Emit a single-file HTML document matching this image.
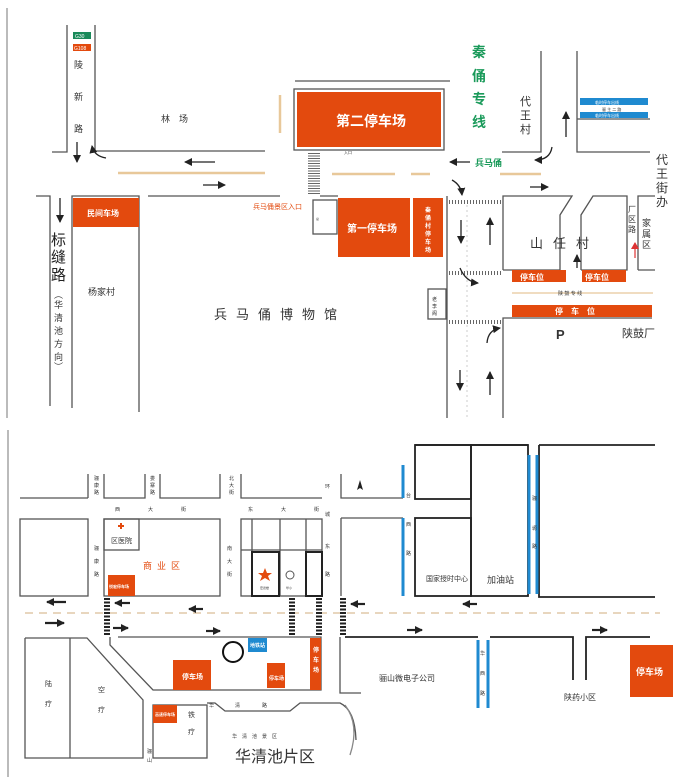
<!DOCTYPE html>
<html><head><meta charset="utf-8"><style>
html,body{margin:0;padding:0;background:#fff;}
svg{display:block;font-family:"Liberation Sans","Noto Sans CJK SC",sans-serif;}
</style></head><body>
<svg width="695" height="777" viewBox="0 0 695 777" xmlns="http://www.w3.org/2000/svg">
<defs>
<marker id="ah" markerUnits="userSpaceOnUse" markerWidth="9" markerHeight="8" refX="7" refY="4" orient="auto"><path d="M0,0 L8,4 L0,8 Z" fill="#222"/></marker>
<marker id="ahr" markerUnits="userSpaceOnUse" markerWidth="8" markerHeight="8" refX="6" refY="4" orient="auto"><path d="M0,0 L7,4 L0,8 Z" fill="#d33"/></marker>
</defs>
<g fill="none" stroke="#555" stroke-width="1.3">
<line x1="7" y1="8" x2="7" y2="418" stroke="#bbb" stroke-width="2"/>
<line x1="8" y1="430" x2="8" y2="777" stroke="#bbb" stroke-width="2"/>
<polyline points="52,152 67,152 67,25"/>
<polyline points="95,25 95,151 265,151"/>
<polyline points="36,196 50,196 50,406"/>
<polyline points="72,408 72,196 139,196 139,412"/>
<line x1="148" y1="196" x2="280" y2="196"/>
<line x1="295" y1="81" x2="450" y2="81"/>
<rect x="294" y="89" width="150" height="61"/>
<line x1="320" y1="196" x2="338" y2="196"/>
<rect x="313" y="200" width="24" height="34"/>
<polyline points="502,152 541,152 541,51"/>
<polyline points="577,51 577,152 650,152"/>
<line x1="577" y1="119" x2="650" y2="119"/>
<line x1="447" y1="196" x2="447" y2="418"/>
<polyline points="503,418 503,318 652,318"/>
<polyline points="503,270 503,196 572,196 560,215 560,270 503,270"/>
<polyline points="581,270 581,215 593,196 627,196 627,270 581,270"/>
<polyline points="638,270 638,196 655,196"/>
<line x1="638" y1="270" x2="655" y2="270"/>
<rect x="428" y="289" width="18" height="30"/>
<line x1="20" y1="498" x2="88" y2="498"/><line x1="88" y1="474" x2="88" y2="498"/>
<polyline points="104,474 104,498 145,498 145,474"/>
<polyline points="160,474 160,498 220,498 220,474"/>
<polyline points="241,474 241,498 322,498"/>
<polyline points="341,474 341,498 403,498"/>
<rect x="20" y="519" width="68" height="77"/>
<rect x="104" y="519" width="116" height="77"/>
<rect x="104" y="519" width="35" height="31"/>
<rect x="241" y="519" width="81" height="77"/>
<line x1="252" y1="519" x2="252" y2="596"/><line x1="280" y1="519" x2="280" y2="596"/><line x1="306" y1="519" x2="306" y2="596"/>
<line x1="241" y1="550" x2="322" y2="550"/>
<rect x="252" y="552" width="27" height="44" stroke="#222" stroke-width="2"/>
<rect x="306" y="552" width="16" height="44" stroke="#222" stroke-width="2"/>
<polyline points="341,518 403,518"/><line x1="341" y1="518" x2="341" y2="596"/>
<polyline points="118,637 321,637 321,690 153,690 110,645 110,637"/>
<polyline points="25,638 87,638 143,700 143,758 25,758 25,638"/>
<line x1="70" y1="638" x2="70" y2="758"/>
<rect x="153" y="705" width="54" height="53"/>
<path d="M207,703 L215,703 L225,711 L290,711 L300,703 L340,703 Q355,710 356,740"/>
<path d="M340,637 L340,693 L361,693"/>
<circle cx="233" cy="652" r="10" stroke="#111" stroke-width="2"/>
<path d="M345,705 Q360,725 350,755" stroke="#888"/>
<g stroke="#222" stroke-width="1.8">
<polyline points="415,445 528,445"/><polyline points="539,445 655,445"/>
<rect x="415" y="445" width="56" height="54"/>
<rect x="415" y="518" width="56" height="78"/>
<rect x="471" y="445" width="57" height="151"/>
<polyline points="539,445 539,597 655,597"/>
<line x1="345" y1="637" x2="478" y2="637"/>
<polyline points="490,637 573,637 573,680"/>
<polyline points="586,680 586,637 650,637"/>
</g>
</g>
<g stroke="#1f8ad0" stroke-width="3">
<line x1="403" y1="465" x2="403" y2="498"/><line x1="403" y1="518" x2="403" y2="596"/>
<line x1="529" y1="455" x2="529" y2="594"/><line x1="537" y1="455" x2="537" y2="594"/>
<line x1="478" y1="640" x2="478" y2="708"/><line x1="488" y1="640" x2="488" y2="708"/>
</g>
<rect x="580" y="98" width="68" height="7" fill="#1f8ad0"/>
<rect x="580" y="112" width="68" height="6" fill="#1f8ad0"/>
<g stroke="#e8c89a" stroke-width="2.5">
<line x1="118" y1="173" x2="265" y2="173"/><line x1="280" y1="95" x2="280" y2="133"/>
<line x1="332" y1="174" x2="395" y2="174"/><line x1="411" y1="174" x2="430" y2="174"/><line x1="500" y1="174" x2="541" y2="174"/>
<line x1="512" y1="293" x2="653" y2="293" stroke-width="1.2"/>
</g>
<line x1="25" y1="613" x2="660" y2="613" stroke="#e0c8a8" stroke-width="1.5" stroke-dasharray="8,6"/>
<line x1="467" y1="205" x2="467" y2="418" stroke="#ccc" stroke-width="1" stroke-dasharray="2,3"/>
<g stroke="#666" stroke-width="4" stroke-dasharray="1,2">
<line x1="449" y1="202" x2="502" y2="202"/><line x1="449" y1="273" x2="502" y2="273"/><line x1="449" y1="322" x2="502" y2="322"/>
</g>
<g stroke="#666" stroke-width="12" stroke-dasharray="1,1.5">
<line x1="314" y1="153" x2="314" y2="195"/>
</g>
<g stroke="#222" stroke-width="6" stroke-dasharray="2,1.5">
<line x1="107" y1="598" x2="107" y2="636"/><line x1="292" y1="598" x2="292" y2="636"/><line x1="319" y1="598" x2="319" y2="636"/><line x1="343" y1="598" x2="343" y2="636"/>
</g>
<g fill="#e34a0e">
<rect x="297" y="92" width="144" height="55"/>
<rect x="338" y="198" width="72" height="59"/>
<rect x="413" y="198" width="30" height="59"/>
<rect x="73" y="198" width="66" height="29"/>
<rect x="512" y="270" width="54" height="12"/><rect x="582" y="270" width="44" height="12"/>
<rect x="512" y="305" width="140" height="12"/>
<rect x="108" y="575" width="27" height="21"/>
<rect x="173" y="660" width="38" height="30"/>
<rect x="267" y="663" width="18" height="25"/>
<rect x="310" y="638" width="11" height="52"/>
<rect x="153" y="705" width="24" height="18"/>
<rect x="630" y="645" width="43" height="52"/>
<rect x="73" y="44" width="18" height="7"/>
</g>
<rect x="73" y="32" width="18" height="7" fill="#1a8a5a"/>
<rect x="248" y="638" width="19" height="14" fill="#1f8ad0"/>
<g stroke="#222" stroke-width="1.3" fill="none" marker-end="url(#ah)">
<line x1="77" y1="142" x2="77" y2="162"/>
<path d="M106,158 Q94,156 92,146"/>
<line x1="215" y1="162" x2="185" y2="162"/><line x1="203" y1="185" x2="225" y2="185"/>
<line x1="60" y1="198" x2="60" y2="222"/>
<line x1="566" y1="137" x2="566" y2="112"/>
<path d="M552,147 Q550,160 535,160"/>
<line x1="470" y1="162" x2="450" y2="162"/>
<path d="M452,180 Q461,185 462,195"/>
<line x1="530" y1="187" x2="548" y2="187"/>
<line x1="461" y1="220" x2="461" y2="243"/><line x1="490" y1="245" x2="490" y2="218"/>
<line x1="460" y1="370" x2="460" y2="390"/><line x1="490" y1="395" x2="490" y2="372"/>
<line x1="577" y1="268" x2="577" y2="255"/>
<path d="M460,268 Q466,282 478,283"/>
<path d="M487,343 Q488,330 500,328"/>
</g>
<g stroke="#d33" stroke-width="1.2" marker-end="url(#ahr)"><line x1="635" y1="258" x2="635" y2="243"/></g>
<g stroke="#222" stroke-width="2.2" fill="none" marker-end="url(#ah)">
<line x1="66" y1="602" x2="47" y2="602"/><line x1="45" y1="623" x2="64" y2="623"/>
<line x1="130" y1="603" x2="115" y2="603"/><line x1="113" y1="628" x2="128" y2="628"/>
<line x1="203" y1="609" x2="189" y2="609"/><line x1="206" y1="631" x2="220" y2="631"/>
<line x1="365" y1="604" x2="351" y2="604"/><line x1="477" y1="604" x2="463" y2="604"/>
<line x1="407" y1="630" x2="422" y2="630"/><line x1="592" y1="630" x2="607" y2="630"/>
</g>
<path d="M360,480 L357,490 L360,488 L363,490 Z" fill="#222"/>
<path d="M265,568 L267,573 L272,573 L268,576 L270,581 L265,578 L260,581 L262,576 L258,573 L263,573 Z" fill="#e34a0e"/>
<circle cx="290" cy="575" r="4" fill="none" stroke="#555"/>
<path d="M121,523 v6 M118,526 h6" stroke="#e34a0e" stroke-width="2"/>
<g fill="#333" font-size="9">
<text x="75" y="38" font-size="5" fill="#fff">G30</text><text x="74" y="50" font-size="5" fill="#fff">G108</text>
<text x="74" y="68">陵</text><text x="74" y="100">新</text><text x="74" y="132">路</text>
<text x="161" y="122">林　场</text>
<text x="88" y="295">杨家村</text>
<text x="214" y="319" font-size="13" letter-spacing="9">兵马俑博物馆</text>
<text x="253" y="209" font-size="7" fill="#e34a0e">兵马俑景区入口</text>
<text x="316" y="220" font-size="3">总</text>
<text x="344" y="154" font-size="4">入口</text>
<text x="520" y="105" font-size="11">代</text><text x="520" y="119" font-size="11">王</text><text x="520" y="133" font-size="11">村</text>
<text x="656" y="164" font-size="12">代</text><text x="656" y="178" font-size="12">王</text><text x="656" y="192" font-size="12">街</text><text x="656" y="206" font-size="12">办</text>
<text x="530" y="248" font-size="13" letter-spacing="10">山任村</text>
<text x="628" y="212" font-size="8">厂</text><text x="628" y="222" font-size="8">区</text><text x="628" y="232" font-size="8">路</text>
<text x="642" y="226" font-size="9">家</text><text x="642" y="237" font-size="9">属</text><text x="642" y="248" font-size="9">区</text>
<text x="558" y="295" font-size="5">陕 鼓 专 线</text>
<text x="432" y="301" font-size="5">老</text><text x="432" y="308" font-size="5">李</text><text x="432" y="315" font-size="5">阁</text>
<text x="556" y="339" font-size="13" font-weight="bold">P</text>
<text x="622" y="337" font-size="11">陕鼓厂</text>
<text x="602" y="111" font-size="4">骊 主 二 路</text>
<g font-size="5">
<text x="94" y="480">骊</text><text x="94" y="487">康</text><text x="94" y="494">路</text>
<text x="150" y="480">娄</text><text x="150" y="487">寨</text><text x="150" y="494">路</text>
<text x="229" y="480">北</text><text x="229" y="487">大</text><text x="229" y="494">街</text>
<text x="325" y="488">环</text><text x="325" y="516">城</text><text x="325" y="548">东</text><text x="325" y="576">路</text>
<text x="94" y="550">骊</text><text x="94" y="563">康</text><text x="94" y="576">路</text>
<text x="227" y="550">南</text><text x="227" y="563">大</text><text x="227" y="576">街</text>
<text x="115" y="511">西</text><text x="148" y="511">大</text><text x="181" y="511">街</text>
<text x="248" y="511">东</text><text x="281" y="511">大</text><text x="314" y="511">街</text>
<text x="406" y="497">台</text><text x="406" y="526">西</text><text x="406" y="555">路</text>
<text x="532" y="500">骊</text><text x="532" y="530">塬</text><text x="532" y="548">路</text>
<text x="480" y="655">华</text><text x="480" y="675">西</text><text x="480" y="695">路</text>
<text x="260" y="589" font-size="3">宏德楼</text><text x="286" y="589" font-size="3">华小</text>
<text x="209" y="707">华</text><text x="235" y="707">清</text><text x="262" y="707">路</text>
<text x="147" y="753">骊</text><text x="147" y="762">山</text>
</g>
<text x="111" y="543" font-size="7">区医院</text>
<text x="143" y="569" font-size="9" fill="#e34a0e" letter-spacing="5">商业区</text>
<text x="45" y="686" font-size="7">陆</text><text x="45" y="706" font-size="7">疗</text>
<text x="98" y="692" font-size="7">空</text><text x="98" y="712" font-size="7">疗</text>
<text x="188" y="717" font-size="7">铁</text><text x="188" y="734" font-size="7">疗</text>
<text x="232" y="738" font-size="5" letter-spacing="5">华清池景区</text>
<text x="235" y="762" font-size="16">华清池片区</text>
<text x="426" y="581" font-size="7">国家授时中心</text>
<text x="487" y="583" font-size="9">加油站</text>
<text x="379" y="681" font-size="8">骊山微电子公司</text>
<text x="564" y="700" font-size="8">陕药小区</text>
</g>
<g fill="#fff" font-weight="bold">
<text x="336" y="126" font-size="14">第二停车场</text>
<text x="347" y="232" font-size="10">第一停车场</text>
<text x="87" y="216" font-size="8">民间车场</text>
<text x="520" y="280" font-size="8">停车位</text><text x="585" y="280" font-size="8">停车位</text>
<text x="555" y="314" font-size="8" letter-spacing="8">停车位</text>
<g font-size="6"><text x="425" y="212">秦</text><text x="425" y="220">俑</text><text x="425" y="228">村</text><text x="425" y="236">停</text><text x="425" y="244">车</text><text x="425" y="252">场</text></g>
<text x="182" y="679" font-size="7">停车场</text>
<text x="269" y="680" font-size="5">停车场</text>
<g font-size="6"><text x="313" y="652">停</text><text x="313" y="662">车</text><text x="313" y="672">场</text></g>
<text x="109" y="588" font-size="4">悦宏停车场</text>
<text x="155" y="716" font-size="4">高速停车场</text>
<text x="250" y="647" font-size="5">地铁站</text>
<text x="636" y="675" font-size="9">停车场</text>
<g font-size="4" font-weight="normal"><text x="595" y="104">临时停车出线</text><text x="595" y="117">临时停车出线</text></g>
</g>
<g fill="#1a9a5a" font-size="14" font-weight="bold">
<text x="472" y="57">秦</text><text x="472" y="81">俑</text><text x="472" y="104">专</text><text x="472" y="127">线</text>
<text x="475" y="166" font-size="9">兵马俑</text>
</g>
<g fill="#222" font-size="15">
<text x="51" y="245">标</text><text x="51" y="262">缝</text><text x="51" y="280">路</text>
</g>
<g fill="#333" font-size="9">
<text x="54" y="298">︵</text><text x="54" y="308">华</text><text x="54" y="321">清</text><text x="54" y="334">池</text><text x="54" y="347">方</text><text x="54" y="360">向</text><text x="54" y="370">︶</text>
</g>
</svg>
</body></html>
